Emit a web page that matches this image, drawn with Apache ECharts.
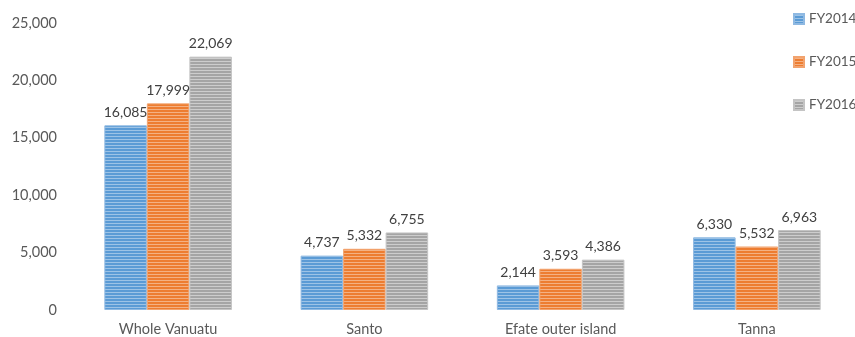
<!DOCTYPE html>
<html>
<head>
<meta charset="utf-8">
<script src="https://cdn.jsdelivr.net/npm/echarts@6/dist/echarts.min.js"></script>
<style>
  html, body { margin: 0; padding: 0; background: #fff; }
  #chart { width: 855px; height: 337px; }
</style>
</head>
<body>
<div id="chart"></div>
<script>
// Visitor counts by area and fiscal year
const categories = ['Whole Vanuatu', 'Santo', 'Efate outer island', 'Tanna'];
const seriesNames = ['FY2014', 'FY2015', 'FY2016'];
const fy2014 = [16085, 4737, 2144, 6330];
const fy2015 = [17999, 5332, 3593, 5532];
const fy2016 = [22069, 6755, 4386, 6963];
const yTicks = [0, 5000, 10000, 15000, 20000, 25000];

const FONT = 'Lato, "Liberation Sans", sans-serif';

// Horizontal stripe fill: base colour with a lighter line every 3px
function stripes(base, light) {
  const c = document.createElement('canvas');
  c.width = 4; c.height = 3;
  const ctx = c.getContext('2d');
  ctx.fillStyle = base; ctx.fillRect(0, 0, 4, 3);
  ctx.fillStyle = light; ctx.fillRect(0, 1, 4, 1);
  return { image: c, repeat: 'repeat' };
}

const palette = [
  { base: '#5b9bd5', light: '#9dc3e6', border: '#8fb9e2' },
  { base: '#ed7d31', light: '#f4b183', border: '#f2a36e' },
  { base: '#a5a5a5', light: '#cdcdcd', border: '#c4c4c4' }
];
const values = [fy2014, fy2015, fy2016];

const fmt = v => v.toLocaleString('en-US');

const chart = echarts.init(document.getElementById('chart'), null, { renderer: 'canvas' });
chart.setOption({
  animation: false,
  backgroundColor: '#ffffff',
  textStyle: { fontFamily: FONT },
  grid: { left: 70, right: -5, top: 23, bottom: 25, containLabel: false },
  legend: {
    orient: 'vertical',
    left: 793,
    top: 12,
    padding: 0,
    itemGap: 29,
    itemWidth: 10,
    itemHeight: 10,
    icon: 'rect',
    textStyle: { color: '#595959', fontSize: 13.5, fontFamily: FONT },
    data: seriesNames.map((n, i) => ({
      name: n,
      itemStyle: { color: stripes(palette[i].base, palette[i].light) }
    }))
  },
  xAxis: {
    type: 'category',
    data: categories,
    axisLine: { show: false },
    axisTick: { show: false },
    axisLabel: { color: '#595959', fontSize: 14.5, fontFamily: FONT, margin: 12 }
  },
  yAxis: {
    type: 'value',
    min: yTicks[0],
    max: yTicks[yTicks.length - 1],
    interval: 5000,
    splitLine: { show: false },
    axisLine: { show: false },
    axisTick: { show: false },
    axisLabel: { color: '#595959', fontSize: 14.5, fontFamily: FONT, margin: 13, formatter: v => fmt(v) }
  },
  series: seriesNames.map((n, i) => ({
    name: n,
    type: 'bar',
    data: values[i],
    barGap: '0%',
    barCategoryGap: '35%',
    itemStyle: {
      color: stripes(palette[i].base, palette[i].light),
      borderColor: palette[i].border,
      borderWidth: 1
    },
    label: {
      show: true,
      position: 'top',
      distance: 6,
      color: '#404040',
      fontSize: 14,
      fontFamily: FONT,
      formatter: p => fmt(p.value)
    }
  }))
});
</script>
</body>
</html>
